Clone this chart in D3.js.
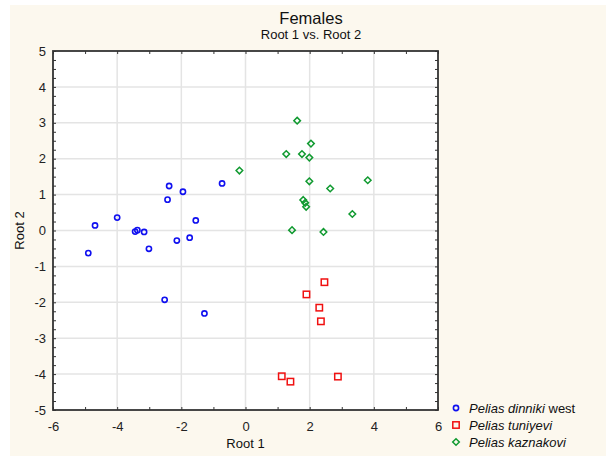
<!DOCTYPE html>
<html><head><meta charset="utf-8">
<script src="https://cdn.jsdelivr.net/npm/d3@7"></script>
<style>body{margin:0;background:#fff;}svg{display:block;font-family:"Liberation Sans",Arial,sans-serif;}</style>
</head><body>
<svg id="chart" width="606" height="456"></svg>
<script>
const dinnikiX = [-4.90,-4.69,-4.00,-3.44,-3.37,-3.16,-3.01,-2.38,-2.43,-1.95,-2.14,-1.74,-1.55,-0.73,-2.52,-1.28];
const dinnikiY = [-0.63,0.14,0.36,-0.03,0.01,-0.04,-0.51,1.24,0.86,1.08,-0.28,-0.20,0.28,1.31,-1.93,-2.31];
const tuniyeviX = [2.46,1.90,2.30,2.35,1.13,1.40,2.88];
const tuniyeviY = [-1.44,-1.78,-2.15,-2.53,-4.06,-4.21,-4.07];
const kaznakoviX = [1.61,2.04,1.27,1.76,1.99,-0.19,1.99,3.81,2.64,1.80,1.86,1.89,3.33,1.45,2.43];
const kaznakoviY = [3.06,2.42,2.13,2.13,2.03,1.67,1.37,1.40,1.17,0.85,0.77,0.66,0.46,0.01,-0.04];
const xTicks = [-6,-4,-2,0,2,4,6];
const yTicks = [5,4,3,2,1,0,-1,-2,-3,-4,-5];

const series = [
  {name:"Pelias dinniki", suffix:" west", x:dinnikiX, y:dinnikiY, color:"#1010f0", shape:"circle"},
  {name:"Pelias tuniyevi", suffix:"", x:tuniyeviX, y:tuniyeviY, color:"#f01010", shape:"square"},
  {name:"Pelias kaznakovi", suffix:"", x:kaznakoviX, y:kaznakoviY, color:"#109a30", shape:"diamond"}
];

const svg = d3.select("#chart");
svg.append("rect").attr("x",10).attr("y",5).attr("width",596).attr("height",451).attr("fill","#fcf8ee");

const L=53, R=438, T=51, B=410;
const x = d3.scaleLinear().domain([-6,6]).range([L,R]);
const y = d3.scaleLinear().domain([-5,5]).range([B,T]);

svg.append("rect").attr("x",L).attr("y",T).attr("width",R-L).attr("height",B-T).attr("fill","#fff");

// grid
svg.append("g").selectAll("line").data(xTicks.slice(1,-1)).join("line")
  .attr("x1",d=>x(d)).attr("x2",d=>x(d)).attr("y1",T).attr("y2",B)
  .attr("stroke","#e4e4e4").attr("stroke-width",1.5);
svg.append("g").selectAll("line").data(yTicks.slice(1,-1)).join("line")
  .attr("y1",d=>y(d)).attr("y2",d=>y(d)).attr("x1",L).attr("x2",R)
  .attr("stroke","#e4e4e4").attr("stroke-width",1.5);

// axes
const tickColor="#333";
const xMinor = d3.range(-6,6.01,1);
const yMinor = d3.range(-5,5.01,0.25);
const gx = svg.append("g").attr("transform",`translate(0,${B})`)
  .call(d3.axisBottom(x).tickValues(xMinor).tickSize(-3).tickFormat(d=>xTicks.includes(d)?d:""));
const gxt = svg.append("g").attr("transform",`translate(0,${T})`)
  .call(d3.axisTop(x).tickValues(xMinor).tickSize(-3).tickFormat(""));
const gy = svg.append("g").attr("transform",`translate(${L},0)`)
  .call(d3.axisLeft(y).tickValues(yMinor).tickSize(-3).tickFormat(d=>yTicks.includes(d)?d:""));
const gyr = svg.append("g").attr("transform",`translate(${R},0)`)
  .call(d3.axisRight(y).tickValues(yMinor).tickSize(-3).tickFormat(""));
[gx,gxt,gy,gyr].forEach(g=>{
  g.select(".domain").remove();
  g.selectAll(".tick line").attr("stroke",tickColor).attr("stroke-width",1);
  g.selectAll(".tick text").attr("fill","#222").style("font-size","13px").style("font-family","'Liberation Sans',Arial,sans-serif");
});
gx.selectAll(".tick text").attr("y",9).attr("dy","0.95em");
gy.selectAll(".tick text").attr("x",-7);
svg.append("rect").attr("x",L).attr("y",T).attr("width",R-L).attr("height",B-T)
  .attr("fill","none").attr("stroke","#333").attr("stroke-width",1.8);

// points
function drawMarker(g, s){
  if(s.shape==="circle"){
    g.append("circle").attr("r",2.6).attr("fill","none").attr("stroke",s.color).attr("stroke-width",1.6);
  } else if(s.shape==="square"){
    g.append("rect").attr("x",-3.2).attr("y",-3.2).attr("width",6.4).attr("height",6.4)
      .attr("fill","none").attr("stroke",s.color).attr("stroke-width",1.5);
  } else {
    g.append("path").attr("d","M0,-3.3L3.3,0L0,3.3L-3.3,0Z").attr("fill","none").attr("stroke",s.color).attr("stroke-width",1.5);
  }
}
series.forEach(s=>{
  const pts = s.x.map((v,i)=>[v,s.y[i]]);
  svg.append("g").selectAll("g").data(pts).join("g")
    .attr("transform",d=>`translate(${x(d[0])},${y(d[1])})`)
    .each(function(){ drawMarker(d3.select(this), s); });
});

// titles
svg.append("text").attr("x",311).attr("y",24).attr("text-anchor","middle").style("font-size","16.5px").attr("fill","#111").text("Females");
svg.append("text").attr("x",311).attr("y",39).attr("text-anchor","middle").style("font-size","13px").attr("fill","#111").text("Root 1 vs. Root 2");
svg.append("text").attr("x",(L+R)/2).attr("y",448).attr("text-anchor","middle").style("font-size","13px").attr("fill","#111").text("Root 1");
svg.append("text").attr("transform",`translate(24,${(T+B)/2}) rotate(-90)`).attr("text-anchor","middle").style("font-size","13px").attr("fill","#111").text("Root 2");

// legend
const lg = svg.append("g");
series.forEach((s,i)=>{
  const gy0 = 408 + i*17;
  const m = lg.append("g").attr("transform",`translate(456,${gy0})`);
  drawMarker(m, s);
  const t = lg.append("text").attr("x",469).attr("y",gy0+4.5).style("font-size","13px").attr("fill","#111");
  t.append("tspan").style("font-style","italic").text(s.name);
  if(s.suffix) t.append("tspan").text(s.suffix);
});
</script>
</body></html>
